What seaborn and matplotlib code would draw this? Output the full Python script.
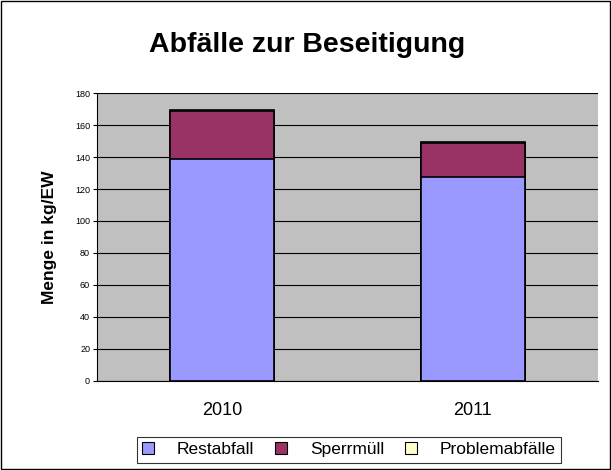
import pandas as pd
import matplotlib
matplotlib.use("Agg")
import matplotlib.pyplot as plt
from matplotlib.patches import Patch
import seaborn as sns

# Data (kg per inhabitant)
years          = ["2010", "2011"]
restabfall     = [138.5, 127.5]
sperrmuell     = [30.5, 21.5]
problemabfaelle = [0.6, 0.5]

series_names  = ["Restabfall", "Sperrmüll", "Problemabfälle"]
series_colors = ["#9999FF", "#993366", "#FFFFCC"]

df = pd.DataFrame({"year": years, "Restabfall": restabfall,
                   "Sperrmüll": sperrmuell, "Problemabfälle": problemabfaelle})
# cumulative tops for stacking
df["top_rest"] = df["Restabfall"]
df["top_sperr"] = df["top_rest"] + df["Sperrmüll"]
df["top_prob"] = df["top_sperr"] + df["Problemabfälle"]

sns.set_style("white")
plt.rcParams["font.family"] = ["Liberation Sans", "DejaVu Sans"]
plt.rcParams["text.color"] = "black"
plt.rcParams["axes.labelcolor"] = "black"
plt.rcParams["xtick.color"] = "black"
plt.rcParams["ytick.color"] = "black"

fig = plt.figure(figsize=(6.11, 4.70), dpi=100)
ax = fig.add_axes([0.1588, 0.1894, 0.8199, 0.6127])
ax.set_facecolor("#C0C0C0")

# draw from top of stack downwards so lower segments sit over upper ones
for col, color in zip(["top_prob", "top_sperr", "top_rest"], series_colors[::-1]):
    sns.barplot(data=df, x="year", y=col, color=color, width=0.415,
                edgecolor="black", linewidth=1.2, saturation=1, ax=ax, zorder=3)

ax.set_ylim(0, 180)
ax.set_yticks(range(0, 181, 20))
ax.yaxis.grid(True, color="black", linewidth=0.8, zorder=0)
ax.set_axisbelow(True)
ax.tick_params(axis="y", labelsize=6.5, length=3, left=True, direction="out", pad=2)
ax.tick_params(axis="x", labelsize=13, length=0, pad=15)
ax.set_xlabel("")
ax.set_ylabel("Menge in kg/EW", fontsize=12.5, fontweight="bold", labelpad=13)
for s in ["top", "right"]:
    ax.spines[s].set_visible(False)
ax.spines["left"].set_color("black")
ax.spines["bottom"].set_color("black")
ax.spines["left"].set_linewidth(0.8)
ax.spines["bottom"].set_linewidth(0.8)

fig.text(0.502, 0.905, "Abfälle zur Beseitigung", ha="center", va="center",
         fontsize=20.5, fontweight="bold")

handles = [Patch(facecolor=c, edgecolor="black", linewidth=0.8) for c in series_colors]
leg = fig.legend(handles, series_names, loc="center", bbox_to_anchor=(0.571, 0.043),
                 ncol=3, fontsize=12.5, frameon=True, fancybox=False,
                 handlelength=0.7, handleheight=0.7, columnspacing=1.2,
                 handletextpad=1.3, borderpad=0.3, borderaxespad=0)
leg.get_frame().set_edgecolor("black")
leg.get_frame().set_linewidth(0.8)

# outer border of the chart area
fig.patches.append(plt.Rectangle((0.002, 0.002), 0.996, 0.996, transform=fig.transFigure,
                                 fill=False, edgecolor="black", linewidth=1.0))

fig.savefig("out.png", dpi=100)
